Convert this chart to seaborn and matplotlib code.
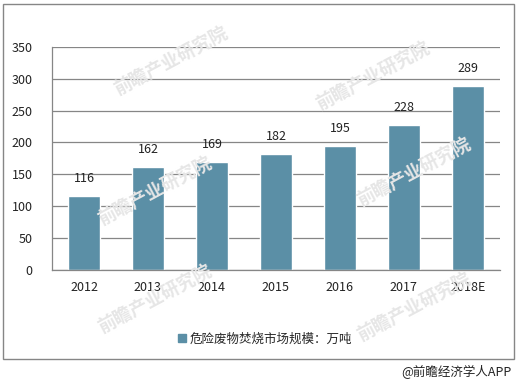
import matplotlib
matplotlib.use("Agg")
import matplotlib.pyplot as plt
import seaborn as sns
import pandas as pd
from matplotlib.patches import Rectangle

years = ["2012", "2013", "2014", "2015", "2016", "2017", "2018E"]
values = [116, 162, 169, 182, 195, 228, 289]
series_name = "危险废物焚烧市场规模：万吨"
yticks = [0, 50, 100, 150, 200, 250, 300, 350]

sns.set_style("white")
plt.rcParams['font.family'] = ['Noto Sans CJK SC', 'DejaVu Sans']

df = pd.DataFrame({"year": years, "value": values, "series": series_name})

fig = plt.figure(figsize=(5.18, 3.84), dpi=100)
ax = fig.add_axes([0.1004, 0.297, 0.8646, 0.581])

bar_color = "#5b8fa6"
sns.barplot(data=df, x="year", y="value", hue="series", palette=[bar_color],
            width=0.5, ax=ax, legend=False, saturation=1)

ax.set_ylim(0, 350)
ax.set_yticks(yticks)
ax.set_xlim(-0.5, len(years) - 0.5)
ax.yaxis.grid(True, color="#868686", linewidth=0.9)
ax.set_axisbelow(True)
for s in ["top", "right"]:
    ax.spines[s].set_visible(False)
for s in ["left", "bottom"]:
    ax.spines[s].set_color("#868686")
    ax.spines[s].set_linewidth(0.9)
ax.tick_params(axis="both", labelsize=9, length=0, colors="#222222", pad=8)
ax.tick_params(axis="y", pad=14)
ax.set_xlabel("")
ax.set_ylabel("")

# faint watermarks (behind bars)
for (wx, wy) in [(0.33, 0.84), (0.72, 0.80), (0.30, 0.50), (0.80, 0.55), (0.30, 0.22), (0.80, 0.20)]:
    fig.text(wx, wy, "前瞻产业研究院", fontsize=13, color="#e6e6e6",
             rotation=28, ha="center", va="center", fontweight="bold", zorder=0)

for c in ax.containers:
    ax.bar_label(c, labels=[str(v) for v in values], padding=8, fontsize=9, color="#222222")

# legend
ax.legend(handles=[Rectangle((0, 0), 1, 1, color=bar_color)], labels=[series_name],
          loc="center", bbox_to_anchor=(265 / 518, 1 - 339 / 384),
          bbox_transform=fig.transFigure, frameon=False, fontsize=9,
          handlelength=0.6, handleheight=0.6, handletextpad=0.3)

# outer border
fig.patches.append(Rectangle((3 / 518, 1 - 359 / 384), 511 / 518, 355 / 384,
                             transform=fig.transFigure, fill=False,
                             edgecolor="#868686", linewidth=1.0))

fig.text(512 / 518, 1 - 372 / 384, "@前瞻经济学人APP", ha="right", va="center",
         fontsize=9, color="#222222")

ax.set_facecolor("none")
fig.savefig("out.png", dpi=100)
